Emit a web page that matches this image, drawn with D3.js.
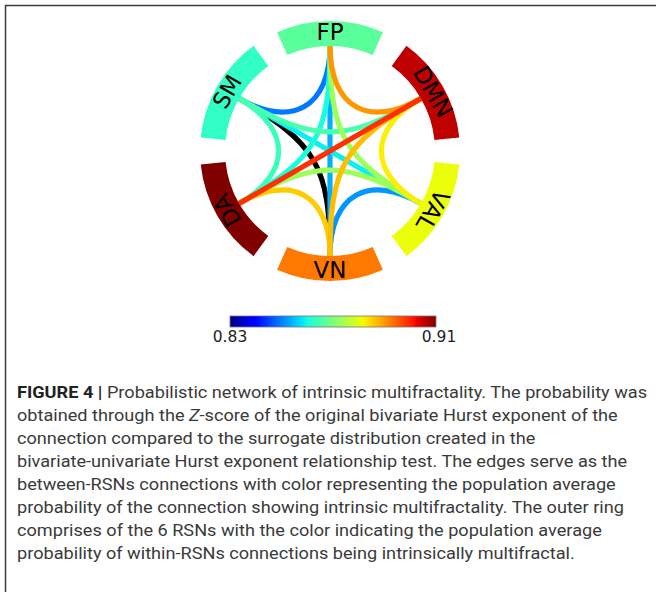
<!DOCTYPE html>
<html>
<head>
<meta charset="utf-8">
<script src="https://cdn.jsdelivr.net/npm/d3@7"></script>
<style>
  html, body { margin: 0; padding: 0; background: #fff; }
  svg { display: block; }
</style>
</head>
<body>
<svg id="chart" width="656" height="592"></svg>
<script>
// Resting-state networks around the ring (clockwise from the top)
const networks = ["FP", "DMN", "VAL", "VN", "DA", "SM"];
// Population-average probability of within-RSN connections being multifractal
const withinProb = [0.8668, 0.9056, 0.8809, 0.8926, 0.9100, 0.8628];

// Between-RSN connections and their average probability (null = no value, drawn black)
const edgeSource = ["FP", "FP", "FP", "FP", "FP", "SM", "SM", "SM", "SM", "DMN", "DMN", "DMN", "VAL", "VAL", "VN"];
const edgeTarget = ["SM", "DMN", "VAL", "VN", "DA", "DMN", "VAL", "VN", "DA", "VAL", "VN", "DA", "VN", "DA", "DA"];
const edgeProb   = [0.8494, 0.8901, 0.8732, 0.8538, 0.8604, 0.8652, 0.8588, null, 0.8636, 0.8825, 0.8867, 0.8987, 0.8518, 0.8732, 0.8855];

// Colour bar range and tick labels
const colorDomain = [0.83, 0.91];
const colorbarTicks = ["0.83", "0.91"];

const captionLines = [
  ["FIGURE 4 | ", "Probabilistic network of intrinsic multifractality. The probability was"],
  ["", "obtained through the ", "Z", "-score of the original bivariate Hurst exponent of the"],
  ["", "connection compared to the surrogate distribution created in the"],
  ["", "bivariate-univariate Hurst exponent relationship test. The edges serve as the"],
  ["", "between-RSNs connections with color representing the population average"],
  ["", "probability of the connection showing intrinsic multifractality. The outer ring"],
  ["", "comprises of the 6 RSNs with the color indicating the population average"],
  ["", "probability of within-RSNs connections being intrinsically multifractal."]
];

// ---------- layout ----------
const W = 656, H = 592;
const cx = 330, cy = 151;
const rInner = 105, rOuter = 130, rLabel = 119;
const hopTension = [0, 0.42, 0.15, 0];   // control-point radius factor by ring distance
const captionLeft = 17, captionFirstWidth = 630;

const svg = d3.select("#chart");
svg.append("rect").attr("width", W).attr("height", H).attr("fill", "#fff");

// jet colormap (matplotlib segment data)
function channel(pts) {
  return d3.scaleLinear().domain(pts.map(p => p[0])).range(pts.map(p => p[1])).clamp(true);
}
const jr = channel([[0, 0], [0.35, 0], [0.66, 1], [0.89, 1], [1, 0.5]]);
const jg = channel([[0, 0], [0.125, 0], [0.375, 1], [0.64, 1], [0.91, 0], [1, 0]]);
const jb = channel([[0, 0.5], [0.11, 1], [0.34, 1], [0.65, 0], [1, 0]]);
const jet = t => d3.rgb(jr(t) * 255, jg(t) * 255, jb(t) * 255).formatHex();
const norm = d3.scaleLinear().domain(colorDomain).range([0, 1]).clamp(true);
const colorOf = v => v == null ? "#000000" : jet(norm(v));

// angular positions: each network gets a band of the circle, centred on its node
const angle = d3.scaleBand()
  .domain(networks)
  .range([-Math.PI / 6, 2 * Math.PI - Math.PI / 6])
  .paddingInner(0.2)
  .paddingOuter(0.1);
const mid = n => angle(n) + angle.bandwidth() / 2;
const polar = (a, r) => [cx + r * Math.sin(a), cy - r * Math.cos(a)];

// ---------- edges ----------
const edges = edgeSource.map((s, i) => ({ s, t: edgeTarget[i], v: edgeProb[i] }))
  .sort((a, b) => (a.v == null ? -1 : a.v) - (b.v == null ? -1 : b.v));

const gEdges = svg.append("g");
edges.forEach(e => {
  const i = networks.indexOf(e.s), j = networks.indexOf(e.t);
  const d = Math.abs(i - j);
  const hops = Math.min(d, networks.length - d);
  const k = hopTension[hops];
  const a0 = mid(e.s), a1 = mid(e.t);
  const p0 = polar(a0, rInner), p1 = polar(a0, rInner * k);
  const p2 = polar(a1, rInner * k), p3 = polar(a1, rInner);
  const path = d3.path();
  path.moveTo(p0[0], p0[1]);
  path.bezierCurveTo(p1[0], p1[1], p2[0], p2[1], p3[0], p3[1]);
  gEdges.append("path")
    .attr("d", path.toString())
    .attr("fill", "none")
    .attr("stroke", colorOf(e.v))
    .attr("stroke-width", 5.2);
});

// ---------- ring ----------
const arc = d3.arc()
  .innerRadius(rInner)
  .outerRadius(rOuter)
  .startAngle(n => angle(n))
  .endAngle(n => angle(n) + angle.bandwidth());

const gRing = svg.append("g").attr("transform", `translate(${cx},${cy})`);
gRing.selectAll("path")
  .data(networks)
  .join("path")
  .attr("d", arc)
  .attr("fill", (n, i) => colorOf(withinProb[i]));

// labels along the ring
networks.forEach(n => {
  const a = mid(n);
  let deg = a * 180 / Math.PI;
  if (deg > 135 && deg < 225) deg -= 180;
  const [x, y] = polar(a, rLabel);
  svg.append("text")
    .attr("transform", `translate(${x},${y}) rotate(${deg})`)
    .attr("text-anchor", "middle")
    .attr("dy", "0.36em")
    .attr("font-family", "DejaVu Sans, sans-serif")
    .attr("font-size", 23)
    .attr("fill", "#000")
    .text(n);
});

// ---------- colour bar ----------
const cbX = d3.scaleLinear().domain(colorDomain).range([230, 436]);
const grad = svg.append("defs").append("linearGradient").attr("id", "jetGrad");
d3.range(0, 1.0001, 0.01).forEach(t => {
  grad.append("stop").attr("offset", t).attr("stop-color", jet(t));
});
svg.append("rect")
  .attr("x", cbX(colorDomain[0])).attr("y", 316)
  .attr("width", cbX(colorDomain[1]) - cbX(colorDomain[0])).attr("height", 11)
  .attr("fill", "url(#jetGrad)")
  .attr("stroke", "#777").attr("stroke-width", 0.8);
svg.append("g").selectAll("text")
  .data(colorbarTicks)
  .join("text")
  .attr("x", d => cbX(+d) + (+d === colorDomain[1] ? 3 : 0))
  .attr("y", 342)
  .attr("text-anchor", "middle")
  .attr("font-family", "DejaVu Sans, sans-serif")
  .attr("font-size", 15.5)
  .attr("fill", "#222")
  .text(d => d);

// ---------- caption ----------
const gCap = svg.append("g")
  .attr("font-family", "Roboto, 'Liberation Sans', sans-serif")
  .attr("font-size", 16.5)
  .attr("fill", "#3a3a3a");
const capTexts = captionLines.map((parts, li) => {
  const t = gCap.append("text")
    .attr("x", captionLeft)
    .attr("y", 398 + li * 23);
  parts.forEach((p, pi) => {
    if (!p) return;
    const ts = t.append("tspan").text(p);
    if (li === 0 && pi === 0) ts.attr("font-weight", "bold").attr("fill", "#222");
    if (li === 1 && pi === 2) ts.attr("font-style", "italic");
  });
  return t;
});
// one common horizontal condensing factor so the first line fills the panel width
const natural = capTexts.map(t => t.node().getComputedTextLength());
const squeeze = captionFirstWidth / natural[0];
capTexts.forEach((t, i) => {
  t.attr("textLength", natural[i] * squeeze).attr("lengthAdjust", "spacingAndGlyphs");
});

// ---------- frame ----------
svg.append("path")
  .attr("d", `M5.5,${H} V5.5 H${W}`)
  .attr("fill", "none")
  .attr("stroke", "#3c3c3c")
  .attr("stroke-width", 1.5);
</script>
</body>
</html>
